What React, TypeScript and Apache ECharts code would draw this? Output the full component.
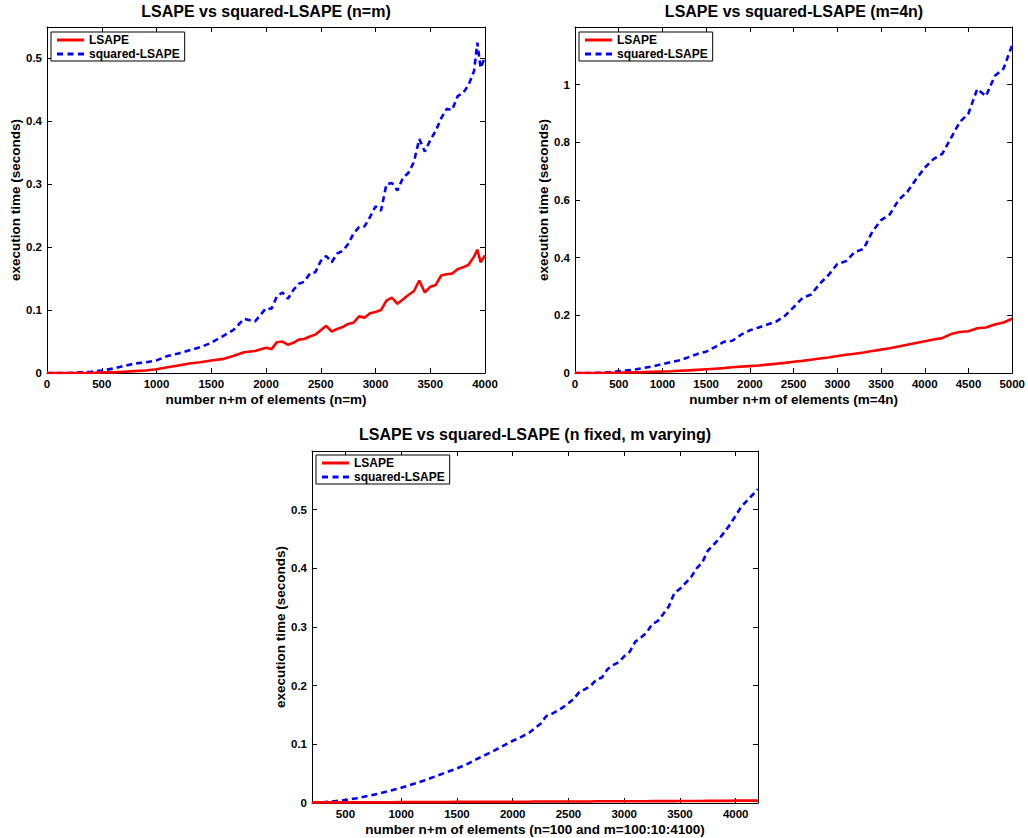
import React, { useEffect, useRef } from "react";
import * as echarts from "echarts";

const FONT = "'Liberation Sans', Arial, Helvetica, sans-serif";

// ---------- Data ----------
const SERIES_NAMES = ["LSAPE", "squared-LSAPE"];

// Chart 1: n = m
const TL_X = [0, 100, 200, 300, 400, 500, 600, 700, 800, 900, 1000, 1100, 1200, 1300, 1400, 1500, 1600, 1700, 1800, 1900,
  2000, 2050, 2100, 2150, 2200, 2250, 2300, 2350, 2400, 2450, 2500, 2550, 2600, 2650, 2700, 2750, 2800, 2850, 2900, 2950,
  3000, 3050, 3100, 3150, 3200, 3250, 3300, 3350, 3400, 3450, 3500, 3550, 3600, 3650, 3700, 3750, 3800, 3850, 3900,
  3930, 3960, 4000];
const TL_LSAPE = [0, 0, 0, 0, 0, 0.001, 0.001, 0.002, 0.003, 0.004, 0.006, 0.009, 0.012, 0.015, 0.017, 0.02, 0.022, 0.027, 0.033, 0.035,
  0.04, 0.038, 0.049, 0.05, 0.045, 0.048, 0.053, 0.054, 0.058, 0.061, 0.068, 0.075, 0.066, 0.07, 0.073, 0.078, 0.08, 0.09, 0.088, 0.095,
  0.097, 0.1, 0.115, 0.12, 0.11, 0.117, 0.124, 0.13, 0.147, 0.128, 0.137, 0.14, 0.155, 0.157, 0.158, 0.165, 0.168, 0.172, 0.185,
  0.196, 0.176, 0.187];
const TL_SQUARED = [0, 0, 0, 0.001, 0.002, 0.004, 0.007, 0.011, 0.015, 0.017, 0.02, 0.027, 0.031, 0.036, 0.041, 0.048, 0.058, 0.068, 0.086, 0.082,
  0.103, 0.102, 0.122, 0.128, 0.118, 0.132, 0.142, 0.145, 0.158, 0.16, 0.178, 0.186, 0.176, 0.19, 0.194, 0.205, 0.222, 0.232, 0.233, 0.248,
  0.265, 0.258, 0.3, 0.302, 0.29, 0.31, 0.318, 0.335, 0.372, 0.352, 0.37, 0.385, 0.405, 0.42, 0.418, 0.44, 0.445, 0.458, 0.48,
  0.525, 0.485, 0.502];

// Chart 2: m = 4n
const TR_X = [0, 100, 200, 300, 400, 500, 600, 700, 800, 900, 1000, 1100, 1200, 1300, 1400, 1500, 1600, 1700, 1800, 1900,
  2000, 2100, 2200, 2300, 2400, 2500, 2600, 2700, 2800, 2900, 3000, 3100, 3200, 3300, 3400, 3500, 3600, 3700, 3800, 3900,
  4000, 4100, 4200, 4300, 4400, 4500, 4600, 4700, 4800, 4900, 5000];
const TR_LSAPE = [0, 0, 0, 0, 0.001, 0.001, 0.002, 0.002, 0.003, 0.004, 0.005, 0.006, 0.008, 0.009, 0.011, 0.013, 0.015, 0.017, 0.02, 0.022,
  0.024, 0.026, 0.029, 0.032, 0.035, 0.039, 0.042, 0.046, 0.05, 0.054, 0.059, 0.063, 0.067, 0.071, 0.076, 0.081, 0.086, 0.092, 0.098, 0.104,
  0.11, 0.116, 0.121, 0.135, 0.142, 0.145, 0.155, 0.158, 0.168, 0.175, 0.188];
const TR_SQUARED = [0, 0, 0, 0.001, 0.003, 0.006, 0.009, 0.013, 0.018, 0.024, 0.031, 0.038, 0.044, 0.055, 0.066, 0.074, 0.09, 0.108, 0.112, 0.133,
  0.148, 0.158, 0.168, 0.178, 0.198, 0.228, 0.26, 0.272, 0.31, 0.34, 0.378, 0.388, 0.42, 0.43, 0.49, 0.53, 0.55, 0.6, 0.628, 0.672,
  0.712, 0.742, 0.76, 0.815, 0.87, 0.9, 0.985, 0.96, 1.03, 1.055, 1.138];

// Chart 3: n fixed, m varying
const B_X = [200, 300, 400, 500, 600, 700, 800, 900, 1000, 1100, 1200, 1300, 1400, 1500, 1600, 1700, 1800, 1900,
  2000, 2050, 2100, 2150, 2200, 2250, 2300, 2350, 2400, 2450, 2500, 2550, 2600, 2650, 2700, 2750, 2800, 2850, 2900, 2950,
  3000, 3050, 3100, 3150, 3200, 3250, 3300, 3350, 3400, 3450, 3500, 3550, 3600, 3650, 3700, 3750, 3800, 3850, 3900, 3950,
  4000, 4050, 4100, 4150, 4200];
const B_LSAPE = [0.001, 0.001, 0.001, 0.001, 0.001, 0.001, 0.001, 0.001, 0.0015, 0.0015, 0.0015, 0.0015, 0.0015, 0.002, 0.002, 0.002, 0.002, 0.002,
  0.002, 0.002, 0.002, 0.002, 0.0025, 0.0025, 0.0025, 0.0025, 0.0025, 0.0025, 0.0025, 0.0025, 0.0025, 0.0025, 0.0025, 0.003, 0.003, 0.003, 0.003, 0.003,
  0.003, 0.003, 0.003, 0.003, 0.003, 0.0032, 0.0032, 0.0032, 0.0032, 0.0032, 0.0035, 0.0035, 0.0035, 0.0035, 0.0035, 0.0037, 0.0037, 0.0037, 0.0037, 0.0037,
  0.004, 0.004, 0.004, 0.004, 0.004];
const B_SQUARED = [0, 0.001, 0.003, 0.005, 0.008, 0.012, 0.016, 0.021, 0.026, 0.032, 0.038, 0.045, 0.052, 0.059, 0.067, 0.077, 0.086, 0.096,
  0.106, 0.11, 0.115, 0.12, 0.128, 0.135, 0.148, 0.152, 0.157, 0.163, 0.17, 0.178, 0.19, 0.194, 0.2, 0.21, 0.214, 0.228, 0.235, 0.24,
  0.25, 0.258, 0.275, 0.282, 0.29, 0.305, 0.31, 0.322, 0.335, 0.358, 0.365, 0.375, 0.385, 0.4, 0.41, 0.43, 0.44, 0.45, 0.462, 0.475,
  0.49, 0.505, 0.515, 0.525, 0.535];
const B_X_TICKS = [500, 1000, 1500, 2000, 2500, 3000, 3500, 4000];

const TITLES = [
  "LSAPE vs squared-LSAPE (n=m)",
  "LSAPE vs squared-LSAPE (m=4n)",
  "LSAPE vs squared-LSAPE (n fixed, m varying)",
];
const X_NAMES = [
  "number n+m of elements (n=m)",
  "number n+m of elements (m=4n)",
  "number n+m of elements (n=100 and m=100:10:4100)",
];
const Y_NAME = "execution time (seconds)";

// ---------- Layout ----------
const GRIDS = [
  { left: 47, top: 27, width: 438, height: 346 },
  { left: 575, top: 27, width: 438, height: 346 },
  { left: 312, top: 451, width: 446, height: 352 },
];

// legend icons (27 x 3 box)
const ICON_SOLID = "path://M0,0h27v3h-27z";
const ICON_DASHED = "path://M0,0h6v3h-6z M10.5,0h6v3h-6z M21,0h6v3h-6z";

const pairs = (xs: number[], ys: number[]) => xs.map((x, i) => [x, ys[i]]);

const labelStyle = { fontFamily: FONT, fontWeight: "bold" as const, fontSize: 11.5, color: "#000" };
const nameStyle = { fontFamily: FONT, fontWeight: "bold" as const, fontSize: 13.5, color: "#000" };

function xAxes(grid: number, min: number, max: number, interval: number | null, name: string, custom?: number[]) {
  const base: any = {
    type: "value",
    gridIndex: grid,
    min,
    max,
    splitLine: { show: false },
    axisLine: { show: true, onZero: false, lineStyle: { color: "#000", width: 1 } },
  };
  if (interval !== null) base.interval = interval;
  const tick: any = { show: true, inside: true, length: 5, lineStyle: { color: "#000", width: 1 } };
  const label: any = { show: true, margin: 5, formatter: (v: number) => String(v), ...labelStyle };
  if (custom) {
    tick.customValues = custom;
    label.customValues = custom;
  }
  return [
    {
      ...base,
      position: "bottom",
      name,
      nameLocation: "middle",
      nameGap: 19,
      nameTextStyle: nameStyle,
      axisTick: tick,
      axisLabel: label,
    },
    {
      ...base,
      position: "top",
      axisTick: { ...tick },
      axisLabel: { show: false },
    },
  ];
}

function yAxes(grid: number, max: number, interval: number, nameGap: number) {
  const base: any = {
    type: "value",
    gridIndex: grid,
    min: 0,
    max,
    interval,
    splitLine: { show: false },
    axisLine: { show: true, onZero: false, lineStyle: { color: "#000", width: 1 } },
  };
  const tick: any = { show: true, inside: true, length: 5, lineStyle: { color: "#000", width: 1 } };
  return [
    {
      ...base,
      position: "left",
      name: Y_NAME,
      nameLocation: "middle",
      nameGap,
      nameTextStyle: nameStyle,
      axisTick: tick,
      axisLabel: { show: true, margin: 5, showMaxLabel: false, ...labelStyle },
    },
    {
      ...base,
      position: "right",
      axisTick: tick,
      axisLabel: { show: false },
    },
  ];
}

function lineSeries(name: string, grid: number, data: number[][]) {
  const isRed = name === "LSAPE";
  return {
    type: "line",
    name,
    xAxisIndex: grid * 2,
    yAxisIndex: grid * 2,
    data,
    symbol: "none",
    showSymbol: false,
    z: isRed ? 3 : 2,
    lineStyle: isRed
      ? { color: "#ff0000", width: 2.6, type: "solid" }
      : { color: "#0000ff", width: 2.6, type: [6, 4] },
    itemStyle: { color: isRed ? "#ff0000" : "#0000ff" },
  };
}

function legend(left: number, top: number) {
  return {
    left,
    top,
    orient: "vertical",
    data: [
      { name: SERIES_NAMES[0], icon: ICON_SOLID, itemStyle: { color: "#ff0000", borderWidth: 0 } },
      { name: SERIES_NAMES[1], icon: ICON_DASHED, itemStyle: { color: "#0000ff", borderWidth: 0 } },
    ],
    selectedMode: false,
    backgroundColor: "#fff",
    borderColor: "#000",
    borderWidth: 1,
    borderRadius: 0,
    padding: [2, 5, 1, 6],
    itemWidth: 27,
    itemHeight: 14,
    itemGap: 2,
    lineStyle: { width: 0, opacity: 0 },
    textStyle: { fontFamily: FONT, fontWeight: "bold", fontSize: 12, color: "#000" },
  };
}

function title(text: string, centerX: number, top: number) {
  return {
    text,
    left: centerX,
    top,
    textAlign: "center",
    padding: 0,
    textStyle: { fontFamily: FONT, fontWeight: "bold", fontSize: 16, color: "#000" },
  };
}

export default function App() {
  const ref = useRef<HTMLDivElement>(null);
  useEffect(() => {
    document.body.style.margin = "0";
    const chart = echarts.init(ref.current!, null, { renderer: "svg" });
    const option: any = {
      animation: false,
      backgroundColor: "#fff",
      title: [
        title(TITLES[0], GRIDS[0].left + GRIDS[0].width / 2, 3),
        title(TITLES[1], GRIDS[1].left + GRIDS[1].width / 2, 3),
        title(TITLES[2], GRIDS[2].left + GRIDS[2].width / 2, 426),
      ],
      legend: [legend(51, 32), legend(579, 32), legend(316, 455)],
      grid: GRIDS.map((g) => ({ ...g, containLabel: false, show: false })),
      xAxis: [
        ...xAxes(0, 0, 4000, 500, X_NAMES[0]),
        ...xAxes(1, 0, 5000, 500, X_NAMES[1]),
        ...xAxes(2, 200, 4200, null, X_NAMES[2], B_X_TICKS),
      ],
      yAxis: [
        ...yAxes(0, 0.55, 0.1, 24),
        ...yAxes(1, 1.2, 0.2, 23),
        ...yAxes(2, 0.6, 0.1, 25),
      ],
      series: [
        lineSeries("LSAPE", 0, pairs(TL_X, TL_LSAPE)),
        lineSeries("squared-LSAPE", 0, pairs(TL_X, TL_SQUARED)),
        lineSeries("LSAPE", 1, pairs(TR_X, TR_LSAPE)),
        lineSeries("squared-LSAPE", 1, pairs(TR_X, TR_SQUARED)),
        lineSeries("LSAPE", 2, pairs(B_X, B_LSAPE)),
        lineSeries("squared-LSAPE", 2, pairs(B_X, B_SQUARED)),
      ],
    };
    chart.setOption(option);
    return () => chart.dispose();
  }, []);
  return <div ref={ref} style={{ width: 1028, height: 838 }} />;
}
